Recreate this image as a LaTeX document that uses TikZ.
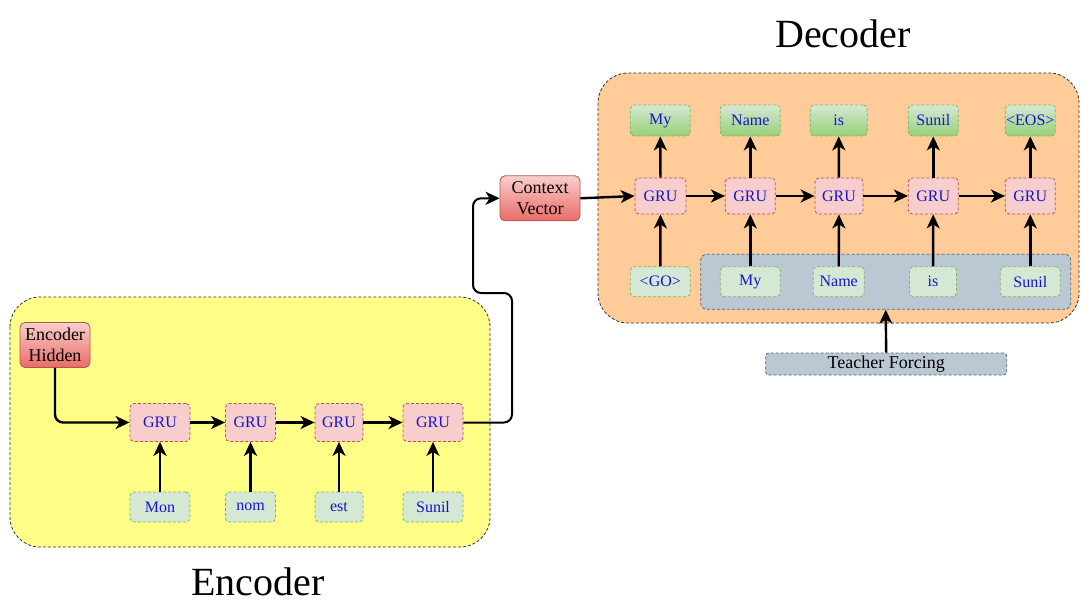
\documentclass[tikz,border=0pt]{standalone}
\usepackage{fontspec}
\setmainfont{Liberation Serif}
\usetikzlibrary{arrows.meta,shadings}
\definecolor{txtblue}{RGB}{20,20,210}
\definecolor{grufill}{HTML}{F8CECC}
\definecolor{grudraw}{HTML}{B85450}
\definecolor{infill}{HTML}{D5E8D4}
\definecolor{indraw}{HTML}{82B366}
\definecolor{outbot}{HTML}{97D077}
\definecolor{redbot}{HTML}{EA6B66}
\definecolor{encfill}{HTML}{FFFF88}
\definecolor{decfill}{HTML}{FFCC99}
\definecolor{tffill}{HTML}{BAC8D3}
\definecolor{tfdraw}{HTML}{23445D}
\tikzset{
  dsh/.style={dash pattern=on 3pt off 2pt,line width=0.8pt},
  gru/.style={draw=grudraw,dsh,fill=grufill,rounded corners=4pt,minimum height=38pt,text=txtblue,font=\fontsize{16}{18}\selectfont,inner sep=0pt},
  inbox/.style={draw=indraw,dsh,fill=infill,rounded corners=4pt,minimum height=30pt,text=txtblue,font=\fontsize{16}{18}\selectfont,inner sep=0pt},
  outbox/.style={draw=indraw,dsh,top color=infill,bottom color=outbot,rounded corners=4pt,minimum height=31pt,text=txtblue,font=\fontsize{16}{18}\selectfont,inner sep=0pt},
  redbox/.style={draw=grudraw,line width=0.8pt,top color=grufill,bottom color=redbot,rounded corners=5pt,minimum width=78pt,minimum height=45pt,align=center,font=\fontsize{18}{21}\selectfont,inner sep=0pt},
  container/.style={draw=black!80,dsh,rounded corners=30pt},
  arr/.style={-{Stealth[length=14pt,width=13pt,inset=4pt]},line width=2.4pt,black},
  biglabel/.style={font=\fontsize{40}{44}\selectfont}
}
\begin{document}
\begin{tikzpicture}[x=1pt,y=-1pt]
\useasboundingbox (0,0) rectangle (1090,615);
% containers
\draw[container,fill=encfill] (10,297) rectangle (490,547);
\draw[container,fill=decfill] (598,73) rectangle (1079,323);
\node[draw=tfdraw!80,dsh,fill=tffill,rounded corners=6pt,minimum width=370pt,minimum height=55pt,inner sep=0pt] (tfg) at (885.7,281.8) {};
% labels
\node[biglabel] (enclabel) at (258,582) {Encoder};
\node[biglabel] (declabel) at (843,34) {Decoder};
% encoder
\node[redbox,minimum width=70pt] (eh) at (55,345) {Encoder\\Hidden};
\node[gru,minimum width=60pt] (e1) at (160,422.5) {GRU};
\node[gru,minimum width=50pt] (e2) at (250.5,422.5) {GRU};
\node[gru,minimum width=48pt] (e3) at (339,422.5) {GRU};
\node[gru,minimum width=60pt] (e4) at (433,422.5) {GRU};
\node[inbox,minimum width=60pt] (x1) at (160,507) {Mon};
\node[inbox,minimum width=50pt] (x2) at (250.5,507) {nom};
\node[inbox,minimum width=48pt] (x3) at (339,507) {est};
\node[inbox,minimum width=60pt] (x4) at (433,507) {Sunil};
\draw[arr,rounded corners=8pt] (eh.south) |- (e1.west);
\draw[arr] (e1) -- (e2);
\draw[arr] (e2) -- (e3);
\draw[arr] (e3) -- (e4);
\foreach \i in {1,2,3,4} \draw[arr] (x\i) -- (e\i);
% context vector
\node[redbox,minimum width=80pt] (ctx) at (540,198.3) {Context\\Vector};
\draw[arr,line width=2pt,rounded corners=8pt] (e4.east) -- (512,422.5) -- (512,293) -- (473,293) -- (473,198.3) -- (ctx.west);
% decoder
\node[gru,minimum width=51pt,minimum height=36pt] (d1) at (660.5,196) {GRU};
\node[gru,minimum width=50pt,minimum height=36pt] (d2) at (750.3,196) {GRU};
\node[gru,minimum width=48pt,minimum height=36pt] (d3) at (839,196) {GRU};
\node[gru,minimum width=50pt,minimum height=36pt] (d4) at (933.3,196) {GRU};
\node[gru,minimum width=50pt,minimum height=36pt] (d5) at (1030.3,196) {GRU};
\node[outbox,minimum width=60pt] (o1) at (660.3,120.5) {My};
\node[outbox,minimum width=60pt] (o2) at (750.3,120.5) {Name};
\node[outbox,minimum width=57pt] (o3) at (838.7,120.5) {is};
\node[outbox,minimum width=50pt] (o4) at (933.3,120.5) {Sunil};
\node[outbox,minimum width=50pt] (o5) at (1030.3,120.5) {<EOS>};
\node[inbox,minimum width=60pt] (y1) at (660.3,281.7) {<GO>};
\node[inbox,minimum width=60pt] (y2) at (750.3,281.7) {My};
\node[inbox,minimum width=51pt] (y3) at (838.7,281.7) {Name};
\node[inbox,minimum width=47pt] (y4) at (933,281.7) {is};
\node[inbox,minimum width=60pt] (y5) at (1030.3,281.7) {Sunil};
\draw[arr] (ctx.east) -- (d1.west);
\draw[arr] (d1) -- (d2);
\draw[arr] (d2) -- (d3);
\draw[arr] (d3) -- (d4);
\draw[arr] (d4) -- (d5);
\foreach \i in {1,...,5} {
  \draw[arr] (y\i) -- (d\i);
  \draw[arr] (d\i) -- (o\i);
}
% teacher forcing
\node[draw=tfdraw!80,dsh,fill=tffill,rounded corners=3pt,minimum width=241pt,minimum height=22pt,inner sep=0pt,font=\fontsize{18}{20}\selectfont] (tf) at (886.2,364) {Teacher Forcing};
\draw[arr] (tf.north) -- (tfg.south);
\end{tikzpicture}
\end{document}
